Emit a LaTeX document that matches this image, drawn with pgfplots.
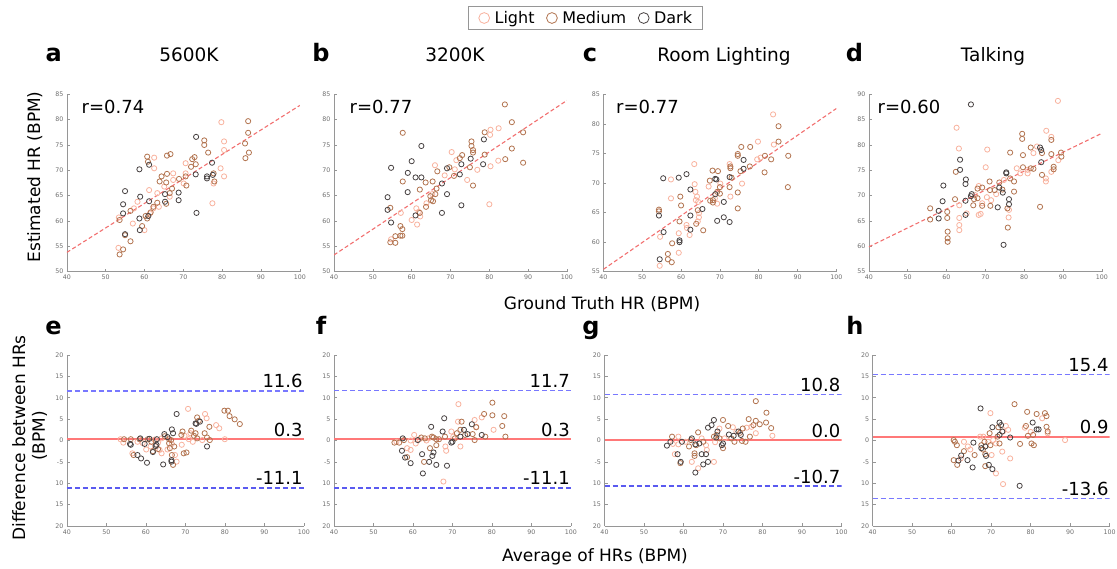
\documentclass[border=0pt]{standalone}
\usepackage{pgfplots}
\pgfplotsset{compat=1.18}
\usepackage{fontspec}
\setmainfont{DejaVu Sans}
\newfontfamily\tickfont[Color=6E6E6E]{DejaVu Sans}
\definecolor{cLight}{RGB}{248,178,158}
\definecolor{cMed}{RGB}{178,116,80}
\definecolor{cDark}{RGB}{72,66,66}
\definecolor{axgray}{RGB}{150,150,150}
\definecolor{fitred}{RGB}{242,112,112}
\definecolor{meanred}{RGB}{255,120,120}
\definecolor{loablue}{RGB}{120,120,255}
\definecolor{loablue2}{RGB}{90,90,240}
\pgfplotsset{
  panel/.style={scale only axis, anchor=south west,
    axis x line*=bottom, axis y line*=left,
    axis line style={draw=axgray, line width=0.6pt},
    tick style={draw=axgray, line width=0.5pt},
    major tick length=3pt, tick align=inside,
    xmin=40, xmax=100, xtick={40,50,...,100},
    tick label style={font=\tickfont\fontsize{6.3}{7}\selectfont},
    /pgf/number format/assume math mode=true},
  top/.style={panel, width=233pt, height=177.4pt},
  bot/.style={panel, width=237pt, height=171pt, ymin=-20, ymax=20,
    ytick={-20,-15,...,20}, yticklabels={20,15,10,-5,0,5,10,15,20}},
  lt/.style={only marks, mark=o, mark size=2.6pt, draw=cLight, mark options={draw=cLight, line width=0.8pt}},
  md/.style={only marks, mark=o, mark size=2.6pt, draw=cMed, mark options={draw=cMed, line width=0.8pt}},
  dk/.style={only marks, mark=o, mark size=2.6pt, draw=cDark, mark options={draw=cDark, line width=0.8pt}},
  fit/.style={mark=none, draw=fitred, line width=1.1pt, dash pattern=on 4pt off 2.5pt},
  meanline/.style={mark=none, draw=meanred, line width=2pt},
  loa/.style={mark=none, draw=loablue, line width=1.6pt, dash pattern=on 5pt off 3pt},
  loab/.style={mark=none, draw=loablue2, line width=1.6pt, dash pattern=on 5pt off 3pt},
}
\newcommand{\valfont}{\fontsize{18}{21}\selectfont}
\begin{document}
\begin{tikzpicture}
\useasboundingbox (0pt,0pt) rectangle (1117pt,569pt);
% ---------------- a ----------------
\begin{axis}[top, at={(66.8pt,297.3pt)}, ymin=50, ymax=85, ytick={50,55,...,85},
  legend style={at={(2.226,1.430)}, anchor=center, draw=axgray, line width=0.8pt, fill=white,
    font=\fontsize{16}{19}\selectfont, inner xsep=10pt, inner ysep=4.5pt,
    nodes={inner sep=0pt}},
  legend columns=3,
  legend image code/.code={\draw[#1, mark size=5.4pt] plot coordinates {(5.4pt,0pt)};},
  /tikz/every odd column/.append style={column sep=5pt},
  /tikz/every even column/.append style={column sep=12pt}]
\addplot[lt] coordinates {(79.8,79.5)(80.5,75.7)(80.5,74)(79.6,70.4)(80.5,68.8)(77.5,63.5)(77.8,67.4)(62.5,72.5)(62.5,70.4)(61.2,66.1)(61.4,61.5)(58.2,63.8)(57.3,62.5)(57,59.5)(53.3,54.7)(53.4,60.7)(60,58.2)(63.3,65.5)(65.1,66.8)(67.4,68.1)(67.4,69.4)(70.6,71.4)(70.6,69.4)(63.7,62.8)(62.3,62.5)(66.5,64.8)(70.1,67.4)};
\addplot[md] coordinates {(60.7,72.7)(60.9,71.7)(65.8,72.9)(66.7,73.2)(63.9,67.8)(64.4,68.8)(65.8,69.3)(67.1,66.4)(65.6,67.6)(68.9,68.3)(70.8,67)(72.9,72.6)(73.2,71.2)(72.3,72.2)(72,70.7)(75.4,75.9)(75.4,75)(76.4,73.5)(77.8,69.4)(78,67.8)(85.9,75.3)(86.7,77.4)(86.7,79.7)(86.9,73.5)(86,72.4)(66.5,65.5)(63.3,63.6)(62.3,62.8)(61.6,61.7)(60.3,61)(60.7,60.5)(59.4,59)(56.4,56)(55,57.2)(53.6,60.2)(53.6,53.4)(54.5,54.4)(56.4,62)(65.6,63.4)(70.6,68.8)};
\addplot[dk] coordinates {(73.3,76.6)(73.2,69.2)(73.4,61.6)(77.4,71.5)(77.6,69.1)(76.1,68.4)(76.1,68.8)(68.8,65.6)(68.8,64.1)(65.3,65.3)(65.3,63.8)(61.2,63.9)(61.2,71.1)(58.7,70.2)(58.9,64.8)(55,65.9)(54.5,63.3)(54.5,61.5)(58.7,60.5)(58.8,58.2)(55,57.4)(61,61.0)};
\addplot[fit] coordinates {(40,53.8)(100,82.8)};
\legend{Light,Medium,Dark}
\end{axis}
% ---------------- b ----------------
\begin{axis}[top, at={(334pt,297.3pt)}, ymin=50, ymax=85, ytick={50,55,...,85}]
\addplot[lt] coordinates {(82.4,78.3)(80.3,78.0)(80.2,77.0)(80.3,70.8)(80.0,63.3)(82.3,71.9)(76.9,70.1)(74.3,68.1)(70.3,73.6)(71.1,70.2)(66.0,71.0)(57.2,61.6)(61.2,62.5)(61.8,61.8)(62.2,60.9)(60.0,60.2)(65.3,65.3)(63.8,63.5)(61.4,59.3)(54.7,56.4)(71.5,72.0)(68.5,69.0)};
\addplot[md] coordinates {(84.0,83.0)(85.8,79.5)(88.7,77.5)(88.7,71.5)(85.8,74.3)(84.1,72.2)(78.8,77.5)(78.8,73.1)(75.4,75.7)(75.4,74.8)(75.8,74.0)(75.8,73.5)(75.0,70.6)(75.8,67.0)(73.0,73.0)(72.4,72.4)(70.9,68.9)(69.7,70.6)(66.6,69.8)(65.4,67.8)(63.6,67.6)(57.7,77.4)(57.7,67.8)(62.1,66.2)(54.5,62.6)(62.1,61.6)(64.8,64.9)(65.0,64.1)(65.5,63.9)(66.1,65.3)(66.4,66.4)(63.7,62.8)(57.1,59.0)(57.6,58.4)(57.1,57.1)(57.6,57.1)(55.8,57.0)(54.5,55.8)(55.8,55.7)};
\addplot[dk] coordinates {(78.6,76.1)(78.4,71.2)(75.2,72.3)(72.8,71.2)(72.4,69.2)(69.1,70.4)(67.8,67.4)(62.5,74.8)(60.0,71.8)(59.0,69.5)(61.0,68.6)(62.5,68.6)(54.7,70.5)(58.97,65.7)(53.8,64.7)(53.8,62.2)(54.7,59.7)(61.0,61.1)(67.8,61.6)(69.1,65.3)(72.8,63.1)};
\addplot[fit] coordinates {(40,53.3)(100,83.8)};
\end{axis}
% ---------------- c ----------------
\begin{axis}[top, at={(603.4pt,297.3pt)}, ymin=55, ymax=85, ytick={55,60,...,85}]
\addplot[lt] coordinates {(83.7,81.6)(83.9,76.5)(79.8,77.0)(79.6,74.0)(80.5,74.3)(75.7,69.9)(72.5,73.2)(72.7,67.7)(70.1,69.9)(67.1,69.4)(68.7,67.4)(69.3,66.5)(63.5,69.8)(63.4,73.2)(57.4,70.6)(57.4,67.4)(63.7,68.5)(64.1,67.7)(63.8,67.1)(64.4,66.8)(64.6,64.9)(64.6,64.2)(64.3,63.5)(62.2,61.2)(61.4,62.9)(61.5,62.4)(59.4,61.5)(54.6,60.9)(59.4,58.2)(54.5,56.0)};
\addplot[md] coordinates {(85.1,79.6)(85.1,77.0)(83.2,74.0)(81.6,74.6)(81.5,71.8)(87.6,74.6)(87.5,69.3)(77.8,76.1)(75.5,76.1)(74.6,74.9)(74.6,74.6)(77.7,72.8)(75.3,72.0)(74.6,68.4)(72.7,72.8)(72.7,72.5)(73.0,70.9)(72.5,69.3)(74.6,65.7)(70.0,69.3)(69.3,68.5)(70.0,68.2)(68.1,72.1)(69.5,72.0)(67.4,70.4)(68.2,67.1)(67.5,67.0)(68.2,66.7)(59.8,67.7)(60.0,66.2)(64.3,65.4)(63.9,63.1)(65.7,62.0)(59.6,63.5)(54.3,65.5)(54.3,65.2)(57.7,59.8)(56.6,58.0)(56.6,57.1)(57.6,56.6)};
\addplot[dk] coordinates {(76.1,73.9)(76.1,72.4)(72.5,71.0)(72.5,63.4)(71.0,64.2)(69.3,63.6)(71.0,66.8)(68.8,70.7)(69.1,70.6)(68.8,68.1)(61.4,71.5)(59.4,70.9)(55.4,70.8)(62.4,68.9)(65.5,65.6)(62.4,64.5)(62.4,62.1)(54.3,64.5)(55.5,61.7)(59.6,60.3)(59.6,60.0)(54.5,57.1)};
\addplot[fit] coordinates {(40,55.4)(100,82.6)};
\end{axis}
% ---------------- d ----------------
\begin{axis}[top, at={(868.8pt,297.3pt)}, ymin=55, ymax=90, ytick={55,60,...,90}]
\addplot[lt] coordinates {(88.7,88.7)(62.6,83.4)(63.2,79.3)(70.5,79.1)(70.1,75.6)(80.9,75.1)(80.9,74.4)(82.4,78.4)(83.3,79.7)(85.6,72.8)(85.6,73.4)(87.0,81.6)(87.0,74.7)(85.7,82.8)(88.8,77.0)(79.0,74.4)(78.1,75.4)(74.8,73.1)(76.1,67.2)(76.0,65.7)(72.8,70.3)(71.5,69.1)(70.4,69.7)(68.3,71.9)(67.4,70.1)(69.2,68.5)(68.3,66.2)(68.8,66.4)(65.2,66.5)(63.3,68.1)(63.3,65.6)(63.3,64.2)(63.3,63.2)};
\addplot[md] coordinates {(62.4,74.7)(76.4,78.5)(79.5,82.2)(79.5,81.2)(79.7,78.0)(79.7,75.6)(81.7,79.5)(84.6,78.4)(84.6,74.1)(87.0,81.0)(87.0,78.2)(87.6,75.7)(87.6,75.2)(89.5,78.5)(89.6,77.7)(84.1,67.8)(82.4,75.3)(81.7,75.4)(76.4,73.4)(77.4,72.8)(74.4,71.2)(77.4,70.8)(75.8,63.7)(75.7,67.5)(73.6,72.6)(72.4,71.1)(71.2,71.1)(71.1,72.8)(71.3,68.0)(69.2,71.6)(68.0,71.4)(68.0,69.5)(67.1,69.3)(69.2,68.0)(66.9,68.1)(62.2,69.3)(55.8,67.5)(55.8,65.3)(60.2,66.8)(60.2,65.6)(60.3,62.9)(60.3,61.6)(60.3,60.9)};
\addplot[dk] coordinates {(66.3,88.0)(63.5,77.1)(63.5,75.1)(84.1,79.5)(84.4,79.0)(84.4,76.6)(75.4,74.6)(75.4,74.4)(74.5,70.6)(76.1,69.3)(76.1,68.3)(74.7,60.3)(73.2,67.7)(73.6,71.6)(66.5,70.3)(66.3,69.9)(64.9,69.0)(64.9,66.2)(65.0,73.2)(64.9,72.3)(59.2,72.0)(59.0,68.9)(58.0,67.0)(58.0,65.5)};
\addplot[fit] coordinates {(40,59.9)(100,82.3)};
\end{axis}
% ---------------- e ----------------
\begin{axis}[bot, at={(66.8pt,43pt)}]
\addplot[lt] coordinates {(70.7,7.4)(75.0,6.2)(75.4,5.2)(77.8,3.6)(78.6,2.85)(80.0,0.3)(71.3,1.7)(70.9,0.3)(69.8,1.1)(64.0,0.5)(66.6,-0.8)(65.5,-2.1)(67.4,-3.4)(67.8,-4.95)(64.0,-3.0)(69.1,-1.0)(71.9,-0.3)(74.3,0.1)(53.6,0.3)(54.3,-0.5)(57.9,-0.3)(59.2,-0.6)(56.6,-3.0)(60.1,-2.1)(62.2,0.2)(63.1,-0.5)(63.5,-2.2)(61.2,-1.4)};
\addplot[md] coordinates {(79.9,6.97)(80.8,6.97)(81.2,5.7)(82.5,4.95)(83.8,3.85)(73.0,5.4)(73.4,4.6)(76.1,3.2)(74.9,1.7)(75.5,0.7)(76.2,0.1)(71.5,2.3)(72.6,1.7)(72.2,1.1)(73.0,0.5)(69.3,2.1)(69.0,1.3)(64.8,1.0)(65.9,0.3)(66.4,0.1)(65.9,-0.65)(66.1,-1.8)(67.2,-1.4)(66.6,-3.4)(66.9,-5.7)(69.6,-3.0)(70.3,-2.8)(56.2,0.3)(54.5,0.3)(58.4,0.3)(60.5,0.3)(56.9,-3.4)(61.8,-2.5)(63.1,-2.0)(61.4,-0.3)};
\addplot[dk] coordinates {(67.8,6.2)(73.7,4.4)(72.6,4.0)(72.8,3.9)(75.5,-1.4)(66.6,2.6)(66.9,1.7)(64.7,1.5)(65.5,0.8)(66.5,-4.6)(66.5,-4.95)(64.4,-5.6)(56.2,-1.0)(56.0,-0.8)(58.6,0.5)(60.9,0.4)(59.7,-0.8)(57.9,-3.4)(58.8,-4.2)(60.3,-5.2)(61.8,-2.7)(62.7,-1.0)(62.5,-1.3)(62.8,0.3)};
\addplot[meanline] coordinates {(40,0.3)(100,0.3)};
\addplot[loa] coordinates {(40,11.6)(100,11.6)};
\addplot[loab] coordinates {(40,-11.1)(100,-11.1)};
\end{axis}
% ---------------- f ----------------
\begin{axis}[bot, at={(334pt,43pt)}]
\addplot[lt] coordinates {(71.5,8.5)(80.4,2.5)(77.4,5.4)(76.0,3.2)(75.6,4.8)(71.4,4.4)(72.0,-1.4)(69.7,2.1)(70.2,0.9)(68.2,-1.4)(68.4,-2.4)(67.7,-9.6)(63.9,0.5)(63.4,0)(61.6,0.3)(60.3,1.3)(60.7,-0.7)(59.4,0)(55.8,-0.3)(58.5,-1.8)(59.4,-2.2)};
\addplot[md] coordinates {(80.1,8.85)(83.1,5.7)(82.6,3.4)(83.4,0.9)(80.1,5.9)(78.0,6.2)(78.3,0.9)(76.0,3.1)(75.1,1.5)(75.6,0.1)(73.2,1.3)(72.0,2.5)(72.3,4.4)(71.1,1.7)(70.6,0.5)(68.1,0.9)(65.9,-1.1)(64.3,-1.8)(64.8,0.9)(65.2,0.7)(65.9,0.3)(66.6,0.3)(63.0,0.5)(62.1,0.7)(62.8,-5.0)(58.5,-3.9)(57.7,0.1)(56.5,-0.5)(55.3,-0.5)};
\addplot[dk] coordinates {(77.4,1.3)(74.9,3.8)(73.8,1.5)(72.9,2.5)(72.0,0.9)(70.0,-0.3)(69.7,-0.5)(67.9,5.2)(67.5,2.1)(68.6,-5.9)(65.9,-5.7)(65.2,-2.8)(64.9,-3.6)(64.1,-5.0)(64.6,3.2)(61.2,0.1)(62.3,-3.2)(62.5,-7.7)(59.4,-5.3)(58.0,-4.0)(57.2,-2.4)(57.4,0.5)};
\addplot[meanline] coordinates {(40,0.3)(100,0.3)};
\addplot[loa] coordinates {(40,11.7)(100,11.7)};
\addplot[loab] coordinates {(40,-11.1)(100,-11.1)};
\end{axis}
% ---------------- g ----------------
\begin{axis}[bot, at={(604.5pt,43pt)}]
\addplot[lt] coordinates {(82.5,1.1)(77.2,3.2)(78.3,1.7)(76.0,3.0)(72.5,3.1)(73.4,2.1)(69.1,2.8)(70.4,0.5)(68.0,-0.4)(67.7,-5.0)(65.9,-2.2)(65.7,-1.1)(64.6,0.5)(63.7,-6.5)(62.1,-5.0)(60.5,-0.3)(58.7,-0.9)(57.8,-3.2)(58.7,0.9)(57.3,-0.8)};
\addplot[md] coordinates {(78.3,9.2)(81.0,6.5)(80.9,4.2)(82.2,2.9)(79.3,3.8)(78.3,4.6)(77.7,3.6)(76.5,5.0)(76.8,0.9)(75.0,2.8)(74.3,1.8)(74.8,-0.1)(75.7,-0.3)(72.1,0.5)(72.9,-0.3)(71.3,3.4)(70.0,4.8)(70.0,-1.8)(67.7,0.9)(68.4,1.3)(69.1,0.5)(65.0,-0.3)(63.7,1.9)(63.2,-1.1)(61.9,0.1)(62.8,-3.0)(62.8,-3.6)(61.4,-1.4)(59.2,-5.3)(57.1,0.9)};
\addplot[dk] coordinates {(73.9,2.1)(74.5,1.3)(72.7,1.1)(71.5,1.4)(70.0,-0.7)(69.7,-1.1)(67.7,4.8)(67.1,3.6)(66.2,3.0)(68.6,2.1)(68.3,0.7)(66.2,-5.0)(65.0,-5.6)(65.7,-3.2)(64.6,-3.2)(64.0,-0.7)(63.0,-0.9)(62.1,0.5)(63.0,-7.5)(59.6,-0.3)(59.3,-5.0)(58.5,-3.2)(56.7,-0.3)(55.8,-1.2)};
\addplot[meanline] coordinates {(40,0.0)(100,0.0)};
\addplot[loa] coordinates {(40,10.8)(100,10.8)};
\addplot[loab] coordinates {(40,-10.7)(100,-10.7)};
\end{axis}
% ---------------- h ----------------
\begin{axis}[bot, at={(872.7pt,43pt)}]
\addplot[lt] coordinates {(88.7,0.1)(69.8,6.4)(82.9,5.2)(84.3,1.7)(74.8,-4.2)(73.7,3.4)(74.3,2.5)(73.0,2.1)(71.2,-0.7)(72.8,-2.6)(73.0,-10.2)(71.2,-7.7)(70.5,0.1)(69.2,-0.3)(68.0,0.9)(67.2,0.9)(70.1,-3.4)(64.1,-1.4)(62.3,-4.2)(63.1,-0.3)(64.7,-2.1)(78.5,3.0)(80.0,2.0)};
\addplot[md] coordinates {(75.9,8.5)(79.1,6.7)(81.5,6.2)(83.6,6.4)(84.0,5.7)(78.8,3.4)(84.0,3.2)(84.3,2.1)(79.3,1.1)(80.6,1.3)(80.2,-0.7)(80.8,-1.1)(77.3,-0.8)(71.8,3.1)(71.6,0.9)(72.1,-0.7)(69.6,1.7)(69.8,-1.1)(68.3,-0.3)(67.5,-1.1)(67.9,-2.1)(68.5,-3.2)(68.5,-6.0)(65.8,-3.4)(63.1,-2.5)(60.5,-4.6)(61.4,-5.7)(60.5,0.1)(60.8,-0.3)(61.3,-1.1)};
\addplot[dk] coordinates {(67.3,7.5)(80.5,4.2)(81.5,2.6)(82.0,2.6)(72.1,4.2)(72.5,3.6)(72.8,2.1)(72.1,1.3)(74.8,0.7)(77.2,-10.6)(70.3,3.1)(68.5,-1.4)(67.5,-1.8)(68.7,-3.6)(69.4,-5.7)(70.3,-6.7)(65.5,-0.5)(65.3,-6.3)(64.0,-4.6)(62.4,-3.5)(61.7,-4.7)};
\addplot[meanline] coordinates {(40,0.9)(100,0.9)};
\addplot[loa] coordinates {(40,15.4)(100,15.4)};
\addplot[loa] coordinates {(40,-13.6)(100,-13.6)};
\end{axis}
% ---------------- band labels ----------------
\begin{scope}[every node/.style={font=\valfont, anchor=base east, inner sep=0pt}]
\node at (302.8pt,181.1pt) {11.6};
\node at (302.8pt,132.8pt) {0.3};
\node at (302.8pt,84.0pt) {-11.1};
\node at (570pt,181.5pt) {11.7};
\node at (570pt,132.8pt) {0.3};
\node at (570pt,84.0pt) {-11.1};
\node at (840.5pt,177.7pt) {10.8};
\node at (840.5pt,131.5pt) {0.0};
\node at (840.5pt,85.8pt) {-10.7};
\node at (1108.7pt,197.3pt) {15.4};
\node at (1108.7pt,135.3pt) {0.9};
\node at (1108.7pt,73.4pt) {-13.6};
\end{scope}
% ---------------- texts ----------------
\begin{scope}[every node/.style={font=\fontsize{24}{28}\selectfont\bfseries, anchor=base, inner sep=0pt}]
\node at (53.6pt,507.3pt) {a};
\node at (321pt,507.3pt) {b};
\node at (590pt,507.3pt) {c};
\node at (854.5pt,507.3pt) {d};
\node at (53.6pt,234pt) {e};
\node at (321pt,234pt) {f};
\node at (591pt,234pt) {g};
\node at (855pt,234pt) {h};
\end{scope}
\begin{scope}[every node/.style={font=\fontsize{18.5}{22}\selectfont, anchor=base, inner sep=0pt}]
\node at (189pt,507.3pt) {5600K};
\node at (455pt,507.3pt) {3200K};
\node at (724pt,507.3pt) {Room Lighting};
\node at (993pt,507.3pt) {Talking};
\end{scope}
\begin{scope}[every node/.style={font=\valfont, anchor=base, inner sep=0pt}]
\node at (113pt,455.7pt) {r=0.74};
\node at (381pt,455.7pt) {r=0.77};
\node at (647.5pt,455.7pt) {r=0.77};
\node at (909pt,455.7pt) {r=0.60};
\end{scope}
\begin{scope}[every node/.style={font=\fontsize{17}{20}\selectfont, inner sep=0pt}]
\node[anchor=base] at (602pt,259pt) {Ground Truth HR (BPM)};
\node[anchor=base] at (595pt,7.3pt) {Average of HRs (BPM)};
\node[rotate=90, anchor=base] at (40pt,392pt) {Estimated HR (BPM)};
\node[rotate=90, anchor=base] at (25pt,131pt) {Difference between HRs};
\node[rotate=90, anchor=base] at (45pt,133pt) {(BPM)};
\end{scope}
\end{tikzpicture}
\end{document}
